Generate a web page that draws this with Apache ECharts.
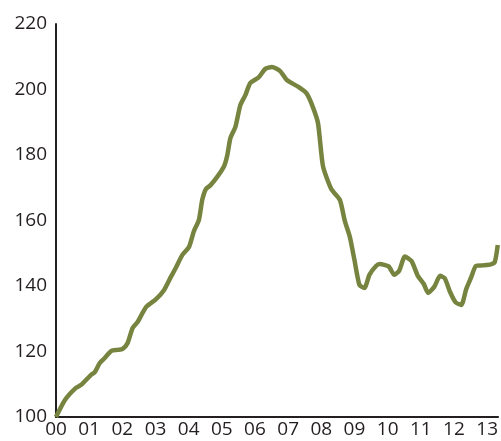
<!DOCTYPE html>
<html>
<head>
<meta charset="utf-8">
<script src="https://cdn.jsdelivr.net/npm/echarts@6/dist/echarts.min.js"></script>
<style>
html,body{margin:0;padding:0;background:#fff;}
#chart{width:501px;height:441px;}
</style>
</head>
<body>
<div id="chart"></div>
<script>
var years = [2000.00,2000.27,2000.60,2000.77,2001.05,2001.17,2001.32,2001.44,2001.67,2001.86,2002.01,2002.16,2002.31,2002.46,2002.72,2003.01,2003.26,2003.46,2003.61,2003.81,2004.01,2004.16,2004.31,2004.41,2004.52,2004.66,2004.86,2005.06,2005.16,2005.26,2005.41,2005.56,2005.71,2005.86,2006.11,2006.31,2006.51,2006.76,2006.96,2007.31,2007.55,2007.72,2007.90,2008.05,2008.30,2008.56,2008.71,2008.86,2009.00,2009.15,2009.30,2009.45,2009.65,2009.76,2010.03,2010.20,2010.35,2010.52,2010.72,2010.91,2011.09,2011.22,2011.41,2011.58,2011.72,2011.89,2012.05,2012.22,2012.37,2012.52,2012.66,2012.87,2013.11,2013.23,2013.32];
var values = [100.0,105.2,108.9,109.9,112.8,113.7,116.5,117.7,120.2,120.5,120.8,122.6,127.2,129.0,133.6,135.9,138.8,142.7,145.5,149.5,151.9,156.8,160.2,166.3,169.6,170.8,173.3,176.4,179.7,185.2,188.6,195.3,198.3,202.0,203.7,206.3,206.9,205.6,202.9,200.8,198.9,195.3,189.7,176.6,169.6,166.3,159.8,155.0,147.9,140.3,139.4,143.4,146.1,146.7,146.0,143.4,144.7,149.0,147.6,143.1,140.6,137.9,139.8,143.1,142.4,138.0,135.0,134.2,139.1,142.7,146.1,146.3,146.6,147.3,152.5];
var xTickYears = [2000,2001,2002,2003,2004,2005,2006,2007,2008,2009,2010,2011,2012,2013];
var yTicks = [100,120,140,160,180,200,220];

var chart = echarts.init(document.getElementById('chart'), null, {renderer:'canvas'});
var font = '"Open Sans", sans-serif';
chart.setOption({
  animation:false,
  backgroundColor:'#ffffff',
  grid:{left:56, right:0, top:24, bottom:24, containLabel:false},
  xAxis:{
    type:'value', min:xTickYears[0], max:2013.33, interval:1,
    axisLine:{show:true, lineStyle:{color:'#231f20', width:2}},
    axisTick:{show:false},
    splitLine:{show:false},
    axisLabel:{
      color:'#231f20', fontSize:19, fontFamily:font, margin:3,
      showMaxLabel:false,
      formatter:function(v){ var y=Math.round(v); return xTickYears.indexOf(y)>=0 ? String(y%100).padStart(2,'0') : ''; }
    }
  },
  yAxis:{
    type:'value', min:yTicks[0], max:yTicks[yTicks.length-1], interval:20,
    axisLine:{show:true, lineStyle:{color:'#231f20', width:2}},
    axisTick:{show:false},
    splitLine:{show:false},
    axisLabel:{color:'#231f20', fontSize:19, fontFamily:font, margin:9}
  },
  series:[{
    type:'line',
    data: years.map(function(y,i){return [y, values[i]];}),
    showSymbol:false,
    smooth:0.2,
    lineStyle:{color:'#76843f', width:4.5},
    clip:false
  }]
});
</script>
</body>
</html>
